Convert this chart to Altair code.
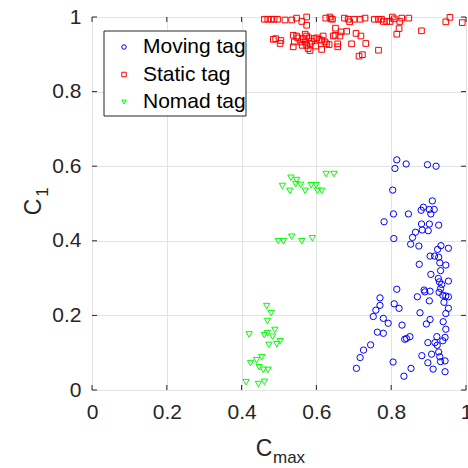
import altair as alt
import pandas as pd

# Moving tag (blue circles)
moving_x = [0.840, 0.897, 0.920, 0.910, 0.886, 0.880, 0.902, 0.915, 0.906, 0.846,
            0.881, 0.902, 0.927, 0.865, 0.883, 0.899, 0.857, 0.852, 0.874, 0.933,
            0.953, 0.924, 0.904, 0.916, 0.927, 0.930, 0.946, 0.875, 0.906, 0.932,
            0.926, 0.929, 0.953, 0.935, 0.932, 0.928, 0.938, 0.888, 0.890, 0.904,
            0.870, 0.946, 0.953, 0.902, 0.941, 0.953, 0.946, 0.877, 0.904, 0.894,
            0.939, 0.829, 0.946, 0.841, 0.836, 0.850, 0.922, 0.944, 0.917, 0.898,
            0.923, 0.938, 0.927, 0.908, 0.882, 0.930, 0.898, 0.944, 0.932, 0.853,
            0.912, 0.944, 0.834,
            0.815, 0.810, 0.804, 0.806, 0.781, 0.807,
            0.815, 0.770, 0.770, 0.808, 0.821, 0.759, 0.752, 0.779, 0.792, 0.763,
            0.779, 0.745, 0.726, 0.717, 0.707, 0.805]
moving_y = [0.606, 0.604, 0.600, 0.507, 0.490, 0.482, 0.484, 0.484, 0.472, 0.472,
            0.445, 0.445, 0.442, 0.423, 0.429, 0.427, 0.409, 0.391, 0.386, 0.387,
            0.380, 0.377, 0.359, 0.359, 0.356, 0.341, 0.335, 0.337, 0.310, 0.320,
            0.299, 0.290, 0.292, 0.283, 0.272, 0.262, 0.254, 0.268, 0.263, 0.265,
            0.250, 0.252, 0.250, 0.239, 0.235, 0.219, 0.205, 0.207, 0.189, 0.177,
            0.183, 0.174, 0.163, 0.138, 0.136, 0.143, 0.143, 0.141, 0.127, 0.127,
            0.120, 0.132, 0.102, 0.096, 0.092, 0.089, 0.073, 0.078, 0.076, 0.058,
            0.056, 0.049, 0.037,
            0.617, 0.594, 0.536, 0.472, 0.451, 0.406,
            0.270, 0.247, 0.227, 0.231, 0.219, 0.214, 0.197, 0.192, 0.179, 0.155,
            0.152, 0.121, 0.107, 0.087, 0.058, 0.075]

# Static tag (red squares)
static_x = [0.461, 0.470, 0.479, 0.487, 0.496, 0.516, 0.534, 0.547, 0.574, 0.561,
            0.574, 0.625, 0.636, 0.639, 0.643, 0.675, 0.685, 0.689, 0.701, 0.717,
            0.730, 0.755, 0.766, 0.774, 0.779, 0.788, 0.797, 0.803, 0.808, 0.828,
            0.823, 0.847, 0.957, 0.946, 0.990,
            0.821, 0.815, 0.881, 0.651, 0.666, 0.681, 0.706, 0.719, 0.694, 0.732,
            0.657, 0.657, 0.634, 0.766, 0.723, 0.714,
            0.485, 0.491, 0.505, 0.503, 0.538, 0.547, 0.550, 0.570, 0.574, 0.580,
            0.565, 0.541, 0.538, 0.562, 0.574, 0.583, 0.587, 0.594, 0.601, 0.607,
            0.614, 0.618, 0.623, 0.627, 0.645, 0.650, 0.663, 0.598, 0.578, 0.583,
            0.614, 0.559, 0.570]
static_y = [0.994, 0.994, 0.994, 0.994, 0.994, 0.992, 0.992, 0.997, 1.000, 0.988,
            0.978, 0.997, 1.000, 0.995, 0.994, 0.997, 0.994, 0.987, 0.994, 0.994,
            0.997, 0.994, 0.994, 0.994, 0.988, 0.988, 0.988, 1.000, 0.995, 0.997,
            0.988, 0.997, 0.999, 0.987, 0.985,
            0.969, 0.954, 0.963, 0.970, 0.960, 0.962, 0.956, 0.949, 0.928, 0.929,
            0.928, 0.920, 0.926, 0.911, 0.899, 0.895,
            0.940, 0.942, 0.937, 0.929, 0.951, 0.949, 0.944, 0.954, 0.949, 0.944,
            0.942, 0.933, 0.920, 0.924, 0.924, 0.928, 0.935, 0.942, 0.944, 0.940,
            0.938, 0.949, 0.933, 0.928, 0.949, 0.951, 0.949, 0.922, 0.915, 0.910,
            0.913, 0.933, 0.933]

# Nomad tag (green downward triangles)
nomad_x = [0.532, 0.547, 0.545, 0.558, 0.509, 0.529, 0.570, 0.586, 0.599, 0.603,
           0.614, 0.626, 0.647, 0.498, 0.512, 0.534, 0.561, 0.589,
           0.467, 0.479, 0.469, 0.420, 0.461, 0.469, 0.489, 0.483, 0.494, 0.503,
           0.473, 0.454, 0.440, 0.424, 0.447, 0.458, 0.471, 0.412, 0.445, 0.461]
nomad_y = [0.569, 0.563, 0.552, 0.550, 0.547, 0.534, 0.534, 0.549, 0.549, 0.534,
           0.534, 0.579, 0.579, 0.399, 0.399, 0.411, 0.399, 0.407,
           0.225, 0.206, 0.185, 0.149, 0.147, 0.152, 0.161, 0.143, 0.123, 0.131,
           0.121, 0.088, 0.080, 0.072, 0.061, 0.054, 0.054, 0.021, 0.016, 0.022]

series_names = ["Moving tag", "Static tag", "Nomad tag"]
series_colors = ["#0000ff", "#ff0000", "#00ff00"]
series_shapes = ["circle", "square", "triangle-down"]
tick_values = [0, 0.2, 0.4, 0.6, 0.8, 1]

W, H = 374, 373
FONT = "Liberation Sans"
INK = "#262626"

frames = []
for name, xs, ys in [("Moving tag", moving_x, moving_y),
                     ("Static tag", static_x, static_y),
                     ("Nomad tag", nomad_x, nomad_y)]:
    frames.append(pd.DataFrame({"cmax": xs, "c1": ys, "tag": name}))
points_df = pd.concat(frames, ignore_index=True)
ticks_df = pd.DataFrame({"t": tick_values})

x_scale = alt.Scale(domain=[0, 1], nice=False, zero=False)
y_scale = alt.Scale(domain=[0, 1], nice=False, zero=False)
color_scale = alt.Scale(domain=series_names, range=series_colors)
shape_scale = alt.Scale(domain=series_names, range=series_shapes)

x_axis = alt.Axis(values=tick_values, format="~g", title=None, grid=True,
                  gridColor="#e3e3e3", tickSize=0, domain=False,
                  labelFont=FONT, labelFontSize=21, labelColor=INK,
                  labelPadding=11, labelFlush=False)
y_axis = alt.Axis(values=tick_values, format="~g", title=None, grid=True,
                  gridColor="#e3e3e3", tickSize=0, domain=False,
                  labelFont=FONT, labelFontSize=21, labelColor=INK,
                  labelPadding=11)

points = alt.Chart(points_df).mark_point(filled=False, strokeWidth=1, opacity=1).encode(
    x=alt.X("cmax:Q", scale=x_scale, axis=x_axis),
    y=alt.Y("c1:Q", scale=y_scale, axis=y_axis),
    color=alt.Color("tag:N", scale=color_scale, legend=None),
    shape=alt.Shape("tag:N", scale=shape_scale, legend=None),
    size=alt.condition("datum.tag == 'Static tag'", alt.value(32), alt.value(40)),
)

# Inward ticks on all four sides of the box
tick_len = 5
bottom_ticks = alt.Chart(ticks_df).mark_rule(color=INK, strokeWidth=1).encode(
    x=alt.X("t:Q", scale=x_scale), y=alt.value(H), y2=alt.value(H - tick_len))
top_ticks = alt.Chart(ticks_df).mark_rule(color=INK, strokeWidth=1).encode(
    x=alt.X("t:Q", scale=x_scale), y=alt.value(0), y2=alt.value(tick_len))
left_ticks = alt.Chart(ticks_df).mark_rule(color=INK, strokeWidth=1).encode(
    y=alt.Y("t:Q", scale=y_scale), x=alt.value(0), x2=alt.value(tick_len))
right_ticks = alt.Chart(ticks_df).mark_rule(color=INK, strokeWidth=1).encode(
    y=alt.Y("t:Q", scale=y_scale), x=alt.value(W), x2=alt.value(W - tick_len))

# Legend box in the upper-left corner
legend_box = alt.Chart(pd.DataFrame({"k": [0]})).mark_rect(
    fill="white", stroke=INK, strokeWidth=1).encode(
    x=alt.value(12), x2=alt.value(154), y=alt.value(14), y2=alt.value(99))

legend_df = pd.DataFrame({"tag": series_names, "row": list(range(len(series_names)))})
legend_base = alt.Chart(legend_df).transform_calculate(ly="30 + datum.row * 27.5")
legend_symbols = legend_base.mark_point(filled=False, strokeWidth=1, opacity=1, size=20).encode(
    x=alt.value(32),
    y=alt.Y("ly:Q", scale=None),
    color=alt.Color("tag:N", scale=color_scale, legend=None),
    shape=alt.Shape("tag:N", scale=shape_scale, legend=None),
)
legend_labels = legend_base.mark_text(
    font=FONT, fontSize=21, color="#000000", align="left", baseline="middle").encode(
    x=alt.value(51), y=alt.Y("ly:Q", scale=None), text="tag:N")

# Axis titles with subscripts
def label(text, x, y, size, angle=0, align="center"):
    return alt.Chart(pd.DataFrame({"s": [text]})).mark_text(
        font=FONT, fontSize=size, color=INK, align=align, baseline="alphabetic",
        angle=angle).encode(text="s:N", x=alt.value(x), y=alt.value(y))

x_title_main = label("C", 172, 439, 23)
x_title_sub = label("max", 181, 446, 17, align="left")
y_title_main = label("C", -51, 190, 23, angle=270)
y_title_sub = label("1", -44, 175, 17, angle=270)

chart = alt.layer(
    bottom_ticks, top_ticks, left_ticks, right_ticks, points,
    legend_box, legend_symbols, legend_labels,
    x_title_main, x_title_sub, y_title_main, y_title_sub,
).properties(
    width=W, height=H,
    padding={"left": 92, "top": 17, "right": 2, "bottom": 78},
    autosize=alt.AutoSizeParams(type="none"),
).configure_view(stroke=INK, strokeWidth=1).configure(background="white")

chart.save("out.html", embed_options={"renderer": "svg", "actions": False})
